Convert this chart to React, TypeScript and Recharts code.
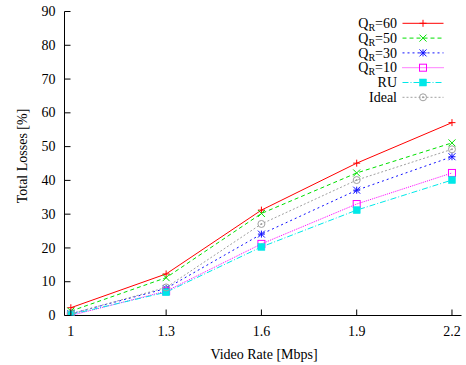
import React from 'react';
import { LineChart, Line, XAxis, YAxis } from 'recharts';

const videoRates = [1, 1.3, 1.6, 1.9, 2.2];
const qr60 = [2.3, 12.3, 31.2, 45.1, 57.1];
const qr50 = [1.3, 11.2, 30.2, 42.2, 51.1];
const qr30 = [0.5, 8.0, 24.1, 37.1, 47.0];
const qr10 = [0.0, 7.2, 21.2, 33.0, 42.2];
const ru = [0.3, 6.9, 20.3, 31.2, 40.1];
const ideal = [0.5, 8.3, 27.1, 40.1, 49.2];

const xTicks = [1, 1.3, 1.6, 1.9, 2.2];
const yTicks = [0, 10, 20, 30, 40, 50, 60, 70, 80, 90];

const xLabel = 'Video Rate [Mbps]';
const yLabel = 'Total Losses [%]';

type Shape = 'plus' | 'cross' | 'star' | 'box' | 'fbox' | 'circle';
interface SeriesDef {
  key: string;
  main: string;
  sub: string;
  rest: string;
  values: number[];
  color: string;
  dash?: string;
  shape: Shape;
}

const series: SeriesDef[] = [
  { key: 'qr60', main: 'Q', sub: 'R', rest: '=60', values: qr60, color: '#ff0000', shape: 'plus' },
  { key: 'qr50', main: 'Q', sub: 'R', rest: '=50', values: qr50, color: '#00e000', dash: '4 3', shape: 'cross' },
  { key: 'qr30', main: 'Q', sub: 'R', rest: '=30', values: qr30, color: '#1010ff', dash: '2 3', shape: 'star' },
  { key: 'qr10', main: 'Q', sub: 'R', rest: '=10', values: qr10, color: '#ff00ff', dash: '1 1', shape: 'box' },
  { key: 'ru', main: 'RU', sub: '', rest: '', values: ru, color: '#00e8e8', dash: '6 2 1 2', shape: 'fbox' },
  { key: 'ideal', main: 'Ideal', sub: '', rest: '', values: ideal, color: '#a0a0a0', dash: '2 2', shape: 'circle' },
];

const data = videoRates.map((x, i) => {
  const row: Record<string, number> = { x };
  series.forEach((s) => {
    row[s.key] = s.values[i];
  });
  return row;
});

const FONT = '"Liberation Serif", "Times New Roman", serif';
const FS = 14;
const TICK_LEN = 6;
const X_MARGIN = 10.5;
const Y_MARGIN = 9;

function Marker({ cx, cy, shape, color }: { cx: number; cy: number; shape: Shape; color: string }) {
  const s = 3.5;
  if (cx == null || cy == null || isNaN(cx) || isNaN(cy)) return null;
  switch (shape) {
    case 'plus':
      return (
        <g stroke={color} strokeWidth={1}>
          <line x1={cx - s} x2={cx + s} y1={cy} y2={cy} />
          <line x1={cx} x2={cx} y1={cy - s} y2={cy + s} />
        </g>
      );
    case 'cross':
      return (
        <g stroke={color} strokeWidth={1}>
          <line x1={cx - s} x2={cx + s} y1={cy - s} y2={cy + s} />
          <line x1={cx - s} x2={cx + s} y1={cy + s} y2={cy - s} />
        </g>
      );
    case 'star':
      return (
        <g stroke={color} strokeWidth={1}>
          <line x1={cx - s} x2={cx + s} y1={cy} y2={cy} />
          <line x1={cx} x2={cx} y1={cy - s} y2={cy + s} />
          <line x1={cx - s} x2={cx + s} y1={cy - s} y2={cy + s} />
          <line x1={cx - s} x2={cx + s} y1={cy + s} y2={cy - s} />
        </g>
      );
    case 'box':
      return <rect x={cx - s} y={cy - s} width={2 * s} height={2 * s} fill="none" stroke={color} strokeWidth={1} />;
    case 'fbox':
      return <rect x={cx - s} y={cy - s} width={2 * s} height={2 * s} fill={color} stroke={color} strokeWidth={0.5} />;
    case 'circle':
      return (
        <g>
          <circle cx={cx} cy={cy} r={s} fill="none" stroke={color} strokeWidth={1} />
          <circle cx={cx} cy={cy} r={1} fill={color} />
        </g>
      );
  }
  return null;
}

function BottomTick(props: any) {
  const { x, y, payload } = props;
  const axisY = y - X_MARGIN;
  return (
    <g>
      <line x1={x} x2={x} y1={axisY} y2={axisY - TICK_LEN} stroke="#000" strokeWidth={1} />
      <text x={x} y={y} dy="0.71em" textAnchor="middle" fontFamily={FONT} fontSize={FS} fill="#000">
        {payload.value}
      </text>
    </g>
  );
}

function TopTick(props: any) {
  const { x, y } = props;
  return <line x1={x} x2={x} y1={y} y2={y + TICK_LEN} stroke="#000" strokeWidth={1} />;
}

function LeftTick(props: any) {
  const { x, y, payload } = props;
  const axisX = x + Y_MARGIN;
  return (
    <g>
      <line x1={axisX} x2={axisX + TICK_LEN} y1={y} y2={y} stroke="#000" strokeWidth={1} />
      <text x={x} y={y} dy="0.33em" textAnchor="end" fontFamily={FONT} fontSize={FS} fill="#000">
        {payload.value}
      </text>
    </g>
  );
}

function RightTick(props: any) {
  const { x, y } = props;
  return <line x1={x} x2={x - TICK_LEN} y1={y} y2={y} stroke="#000" strokeWidth={1} />;
}

const LEGEND_TOP = 23.3;
const LEGEND_STEP = 14.8;
const LEGEND_TEXT_X = 397;
const LEGEND_LINE_X1 = 402.5;
const LEGEND_LINE_X2 = 443.5;

function Overlay() {
  return (
    <svg
      width={466}
      height={365}
      style={{ position: 'absolute', left: 0, top: 0, pointerEvents: 'none' }}
    >
      {series.map((s, i) => {
        const ry = LEGEND_TOP + i * LEGEND_STEP;
        return (
          <g key={s.key}>
            <text x={LEGEND_TEXT_X} y={ry + 4.6} textAnchor="end" fontFamily={FONT} fontSize={FS} fill="#000">
              {s.main}
              {s.sub ? (
                <tspan fontSize={10} dy={3}>
                  {s.sub}
                </tspan>
              ) : null}
              {s.rest ? <tspan dy={s.sub ? -3 : 0}>{s.rest}</tspan> : null}
            </text>
            <line
              x1={LEGEND_LINE_X1}
              x2={LEGEND_LINE_X2}
              y1={ry}
              y2={ry}
              stroke={s.color}
              strokeWidth={1}
              strokeDasharray={s.dash}
            />
            <Marker cx={(LEGEND_LINE_X1 + LEGEND_LINE_X2) / 2} cy={ry} shape={s.shape} color={s.color} />
          </g>
        );
      })}
      <text
        x={27}
        y={156}
        transform="rotate(-90 27 156)"
        textAnchor="middle"
        fontFamily={FONT}
        fontSize={FS}
        fill="#000"
      >
        {yLabel}
      </text>
      <text x={264} y={359} textAnchor="middle" fontFamily={FONT} fontSize={FS} fill="#000">
        {xLabel}
      </text>
    </svg>
  );
}

export default function App() {
  return (
    <div style={{ position: 'relative', width: 466, height: 365, background: '#fff' }}>
      <style>{`body{margin:0;background:#fff}`}</style>
      <LineChart width={466} height={365} data={data} margin={{ top: 11.5, right: 4.5, bottom: 0, left: 0 }}>
        <XAxis
          xAxisId="b"
          dataKey="x"
          type="number"
          domain={[0.98, 2.23]}
          ticks={xTicks}
          interval={0}
          allowDataOverflow
          height={49.5}
          tickSize={0}
          tickMargin={X_MARGIN}
          tick={<BottomTick />}
          axisLine={{ stroke: '#000', strokeWidth: 1 }}
        />
        <XAxis
          xAxisId="t"
          orientation="top"
          dataKey="x"
          type="number"
          domain={[0.98, 2.23]}
          ticks={xTicks}
          interval={0}
          allowDataOverflow
          height={0}
          tickSize={0}
          tickMargin={0}
          tick={<TopTick />}
          axisLine={{ stroke: '#000', strokeWidth: 1 }}
        />
        <YAxis
          yAxisId="l"
          type="number"
          domain={[0, 90]}
          ticks={yTicks}
          interval={0}
          allowDataOverflow
          width={64.5}
          tickSize={0}
          tickMargin={Y_MARGIN}
          tick={<LeftTick />}
          axisLine={{ stroke: '#000', strokeWidth: 1 }}
        />
        <YAxis
          yAxisId="r"
          orientation="right"
          type="number"
          domain={[0, 90]}
          ticks={yTicks}
          interval={0}
          allowDataOverflow
          width={0}
          tickSize={0}
          tickMargin={0}
          tick={<RightTick />}
          axisLine={{ stroke: '#000', strokeWidth: 1 }}
        />
        {series.map((s) => (
          <Line
            key={s.key}
            xAxisId="b"
            yAxisId="l"
            type="linear"
            dataKey={s.key}
            stroke={s.color}
            strokeWidth={1}
            strokeDasharray={s.dash}
            isAnimationActive={false}
            dot={(p: any) => (
              <Marker key={`${s.key}-${p.index}`} cx={p.cx} cy={p.cy} shape={s.shape} color={s.color} />
            )}
            activeDot={false}
          />
        ))}
      </LineChart>
      <Overlay />
    </div>
  );
}
